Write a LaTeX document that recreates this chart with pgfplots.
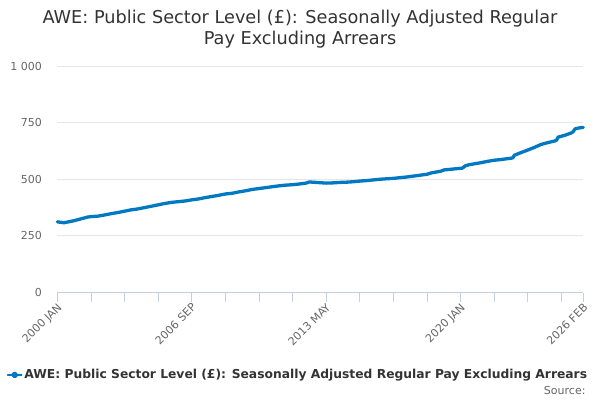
\documentclass[border=0pt]{standalone}
\usepackage{pgfplots}
\pgfplotsset{compat=1.18}
\usepackage{pgfplotstable}
\usepackage{fontspec}
\setmainfont{DejaVu Sans}
\definecolor{awe}{RGB}{0,120,194}
\definecolor{tickgrey}{RGB}{102,102,102}
\definecolor{titlegrey}{RGB}{51,51,51}
\definecolor{gridgrey}{RGB}{230,230,230}
\definecolor{axisblue}{RGB}{192,208,224}
\pgfplotstableread{
m v
0 312
2 310
4 308
6 311
8 314
10 317
12 321
14 325
16 329
18 333
20 335
24 337
28 342
32 348
36 353
40 359
44 365
48 369
52 375
56 381
60 387
64 393
68 398
72 401
76 404
80 409
84 413
88 419
92 424
96 429
100 435
104 438
108 444
112 449
116 455
120 459
124 463
128 467
132 471
136 474
140 476
144 479
148 483
150 488
152 487
156 485
160 483
164 484
168 486
172 487
176 489
180 492
184 494
188 497
192 500
196 502
200 504
204 507
208 510
212 514
216 518
220 522
222 527
224 530
228 535
230 541
234 544
238 547
241 549
243 560
245 564
248 568
252 573
256 579
260 584
264 587
268 591
271 594
272 606
276 618
280 629
284 641
288 654
292 662
296 669
297 672
298 686
302 694
306 705
307 710
308 722
310 726
313 729
}\awedata
\begin{document}
\begin{tikzpicture}[x=1pt,y=1pt]
\path[use as bounding box] (0,0) rectangle (600,400);
\node[align=center, text=titlegrey, font=\fontsize{17.7}{21}\selectfont] at (300,371) {AWE: Public Sector Level (£): Seasonally Adjusted Regular\\Pay Excluding Arrears};
\begin{axis}[
  at={(57.3pt,107.5pt)}, anchor=south west,
  scale only axis, width=526pt, height=226.5pt,
  xmin=0, xmax=313, ymin=0, ymax=1000,
  clip=false,
  axis x line*=bottom, axis y line*=left,
  x axis line style={draw=axisblue, line width=0.8pt, -},
  y axis line style={draw=none},
  xtick={0,80,160,240,313},
  xticklabels={2000 JAN,2006 SEP,2013 MAY,2020 JAN,2026 FEB},
  minor xtick={20,40,60,100,120,140,180,200,220,260,280,300},
  x tick style={draw=axisblue, line width=0.8pt},
  xtick align=outside,
  major tick length=9pt, minor tick length=9pt,
  x tick label style={rotate=45, anchor=north east, text=tickgrey, font=\fontsize{11}{12}\selectfont, inner sep=1pt, yshift=1pt},
  ytick={0,250,500,750,1000},
  yticklabels={0,250,500,750,1 000},
  ymajorgrids, grid style={draw=gridgrey, line width=0.8pt},
  y tick label style={text=tickgrey, font=\fontsize{11}{12}\selectfont},
  yticklabel style={anchor=east, xshift=-12pt},
  ytick style={draw=none},
  /pgf/number format/assume math mode=true,
  legend style={at={(0.4576,-0.364)}, anchor=center, draw=none, fill=none, font=\bfseries\fontsize{12.3}{14}\selectfont, text=titlegrey, inner sep=0pt},
  legend image code/.code={\draw[awe, line width=1.5pt] (0pt,0pt) -- (14pt,0pt); \fill[awe] (7pt,0pt) circle (1.8pt);},
]
\addplot[color=awe, line width=3.3pt, line join=round, line cap=round] table[x=m, y=v] {\awedata};
\addlegendentry{AWE: Public Sector Level (£): Seasonally Adjusted Regular Pay Excluding Arrears}
\end{axis}
\node[anchor=east, text=tickgrey, font=\fontsize{11}{12}\selectfont] at (589,10) {Source:};
\end{tikzpicture}
\end{document}
